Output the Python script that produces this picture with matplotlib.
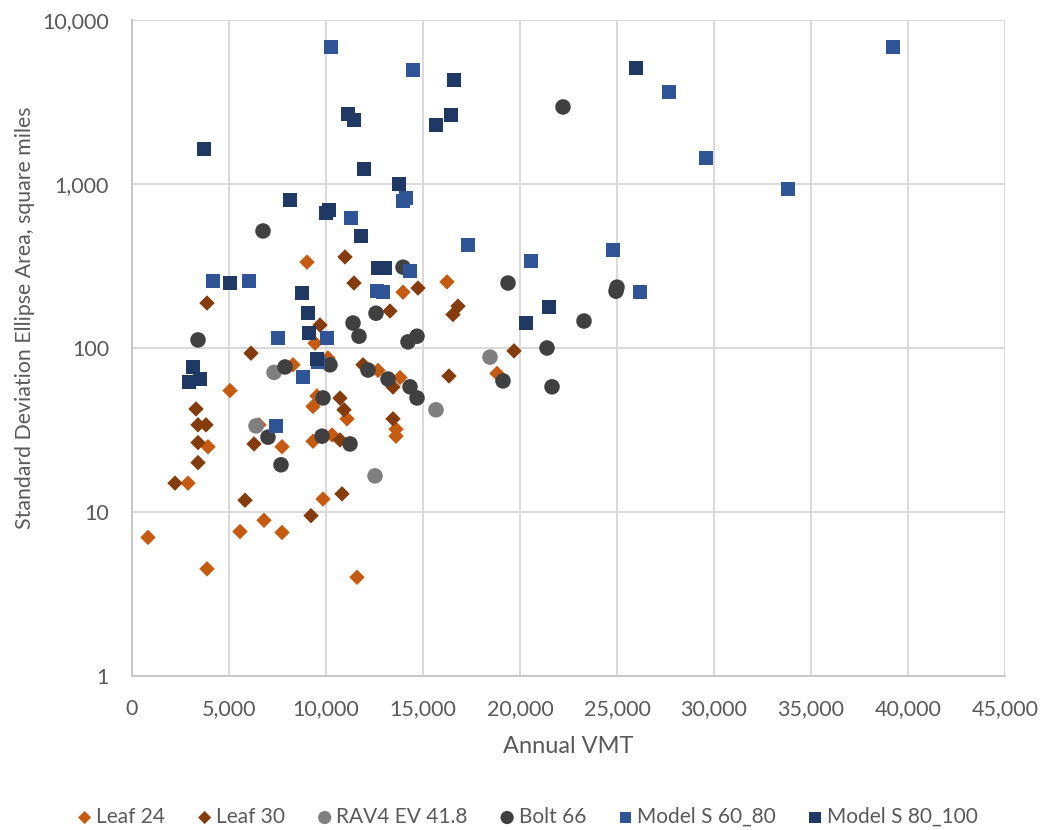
import matplotlib
matplotlib.use("Agg")
import matplotlib.pyplot as plt
from matplotlib.ticker import FixedLocator, FuncFormatter, NullLocator

plt.rcParams['font.family'] = ['Lato', 'DejaVu Sans']

# ---- data ----
leaf24_x = [825, 2887, 3866, 3918, 5052, 5567, 6546, 6804, 7732, 7732, 8299, 9021, 9433, 9330, 9536,
            9330, 10309, 10103, 11083, 9845, 11598, 12680, 13814, 13608, 13608, 13969, 16237, 18815]
leaf24_y = [7.0, 15, 4.5, 25, 55, 7.6, 34, 8.9, 7.5, 25, 79, 334, 107, 44, 51,
            27, 29.5, 87, 37, 12, 4.0, 73, 66, 32, 29, 219, 253, 70]

leaf30_x = [3866, 6134, 3299, 3402, 3814, 3402, 3402, 2216, 6289, 5825, 9227, 10825, 9691, 10980,
            11443, 13299, 14742, 16804, 16546, 16340, 11907, 10722, 10928, 10722, 13453, 13453, 19691]
leaf30_y = [188, 93, 42.5, 34, 34, 26.5, 20, 15, 26, 11.8, 9.5, 12.9, 138, 359,
            249, 168, 232, 180, 160, 67.5, 79, 49.5, 42, 27.5, 57.8, 37, 96]

rav4_x = [6392, 7320, 15670, 18454, 12526]
rav4_y = [33.5, 71, 42, 88, 16.6]

bolt_x = [3402, 6753, 7010, 7680, 7887, 9794, 9845, 10206, 11237, 11392, 11701, 12165, 12577, 13196,
          13969, 14227, 14330, 14691, 14691, 19124, 19382, 21392, 21650, 22216, 23299, 24948, 25000]
bolt_y = [112, 517, 28.6, 19.4, 76.6, 29, 49.6, 79, 26, 142, 118, 73.4, 163, 64.7,
          311, 109, 58, 118, 49.6, 63, 249, 100, 58, 2950, 146, 222, 235]

ms6080_x = [10258, 14485, 27680, 29588, 33814, 39227, 14124, 13969, 11289, 17320, 20567, 24794,
            14330, 12629, 12938, 26186, 4175, 6031, 7526, 10052, 8815, 9588, 7423]
ms6080_y = [6840, 4950, 3640, 1440, 933, 6840, 822, 790, 621, 425, 339, 396,
            295, 222, 219, 219, 256, 256, 115, 115, 66.5, 82, 33.5]

ms80100_x = [3711, 8144, 11959, 13763, 10155, 10000, 11804, 12680, 13041, 5052, 8763, 9072, 9124,
             9536, 3144, 2938, 3505, 16598, 11134, 11443, 16443, 15670, 21495, 20309, 25979]
ms80100_y = [1634, 800, 1234, 1000, 693, 664, 482, 308, 308, 249, 216, 163, 123,
             86, 76.5, 62, 64.7, 4306, 2673, 2456, 2634, 2290, 178, 142, 5096]

x_ticks = [0, 5000, 10000, 15000, 20000, 25000, 30000, 35000, 40000, 45000]
y_ticks = [1, 10, 100, 1000, 10000]

series = [
    ("Leaf 24", leaf24_x, leaf24_y, "D", "#C55A11", 62),
    ("Leaf 30", leaf30_x, leaf30_y, "D", "#843C0C", 62),
    ("RAV4 EV 41.8", rav4_x, rav4_y, "o", "#7F7F7F", 125),
    ("Bolt 66", bolt_x, bolt_y, "o", "#404040", 125),
    ("Model S 60_80", ms6080_x, ms6080_y, "s", "#2F5597", 100),
    ("Model S 80_100", ms80100_x, ms80100_y, "s", "#203864", 100),
]

fig = plt.figure(figsize=(10.44, 8.30), dpi=100)
ax = fig.add_axes([132/1044, 1 - 676/830, (1005-132)/1044, (676-20)/830])

for name, xs, ys, m, c, s in series:
    ax.scatter(xs, ys, marker=m, s=s, color=c, edgecolors='none', label=name, zorder=3)

ax.set_yscale('log')
ax.set_xlim(0, 45000)
ax.set_ylim(1, 10000)
ax.xaxis.set_major_locator(FixedLocator(x_ticks))
ax.yaxis.set_major_locator(FixedLocator(y_ticks))
ax.yaxis.set_minor_locator(NullLocator())
ax.xaxis.set_major_formatter(FuncFormatter(lambda v, p: f"{int(v):,}"))
ax.yaxis.set_major_formatter(FuncFormatter(lambda v, p: f"{int(round(v)):,}"))

ax.grid(True, which='major', color='#D9D9D9', linewidth=1.4, zorder=0)
ax.set_axisbelow(True)
for sp in ['top', 'right']:
    ax.spines[sp].set_visible(False)
for sp in ['left', 'bottom']:
    ax.spines[sp].set_color('#C6C6C6')
    ax.spines[sp].set_linewidth(1.4)
ax.tick_params(axis='x', length=0, labelsize=15.5, colors='#595959', pad=16.5)
ax.tick_params(axis='y', length=0, labelsize=15.5, colors='#595959', pad=16.5)

ax.set_xlabel("Annual VMT", fontsize=17, color='#595959')
ax.xaxis.set_label_coords(0.5, (676 - 736) / 656)
ax.set_ylabel("Standard Deviation Ellipse Area, square miles", fontsize=15.3, color='#595959')
ax.yaxis.set_label_coords((35 - 132) / 873, (676 - 317.5) / 656)

leg = fig.legend(loc='center', bbox_to_anchor=(528/1044, 1 - 817/830), ncol=6, frameon=False,
                 fontsize=15, handlelength=0.6, handletextpad=0.25, columnspacing=1.6,
                 markerscale=0.85, borderaxespad=0, borderpad=0)
for t in leg.get_texts():
    t.set_color('#595959')

fig.savefig("out.png", dpi=100)
